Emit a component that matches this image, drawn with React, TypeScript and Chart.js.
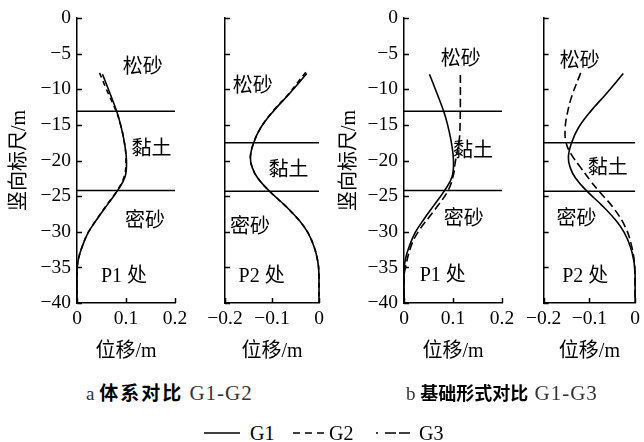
import React, { useEffect, useRef } from 'react';
import { Chart, registerables } from 'chart.js';

Chart.register(...registerables);

const FONT = '"Liberation Serif", "Noto Sans CJK SC", serif';
const CJK = '"Noto Sans CJK SC", sans-serif';
const H = 370;

// ---------- data (depth in m, displacement in m) ----------
// P1, G1 (used in both panels a and b)
const p1G1Depth = [-7.9, -10, -13.1, -15, -17.6, -20, -22.3, -24.2, -26.3, -28.2, -30.1, -32, -33.8, -35.5, -40];
const p1G1Disp = [0.052, 0.064, 0.081, 0.089, 0.097, 0.101, 0.098, 0.083, 0.061, 0.041, 0.023, 0.011, 0.003, 0, 0];
// P1, G2
const p1G2Depth = [-7.7, -10, -13.1, -15, -17.6, -20, -22.3, -24.2, -26.3, -28.2, -30.1, -32, -33.8, -35.5, -40];
const p1G2Disp = [0.046, 0.060, 0.080, 0.089, 0.097, 0.100, 0.096, 0.082, 0.060, 0.041, 0.023, 0.011, 0.003, 0, 0];
// P1, G3
const p1G3Depth = [-8, -12, -16, -17.5, -19, -20.5, -22, -24.2, -26.9, -30, -32.1, -35, -36.5, -40];
const p1G3Disp = [0.115, 0.115, 0.114, 0.112, 0.108, 0.104, 0.101, 0.090, 0.063, 0.029, 0.014, 0.003, 0, 0];
// P2, G1
const p2G1Depth = [-7.8, -10.7, -13, -15.4, -17.5, -19.5, -21, -22.5, -24.2, -26.4, -28.5, -30.1, -32, -34, -36, -40];
const p2G1Disp = [-0.026, -0.064, -0.096, -0.124, -0.139, -0.146, -0.142, -0.130, -0.107, -0.071, -0.041, -0.024, -0.011, -0.003, 0, 0];
// P2, G2
const p2G2Depth = [-7.6, -9, -10.7, -13, -15.4, -17.5, -19.5, -21, -22.5, -24.2, -26.4, -28.5, -30.1, -32, -34, -36, -40];
const p2G2Disp = [-0.028, -0.045, -0.065, -0.097, -0.124, -0.139, -0.146, -0.142, -0.130, -0.107, -0.071, -0.041, -0.024, -0.011, -0.003, 0, 0];
// P2, G3
const p2G3Depth = [-7.7, -10.7, -13, -15.4, -17.5, -19.1, -21, -22.9, -24.4, -26.6, -29.4, -32.2, -35, -40];
const p2G3Disp = [-0.119, -0.137, -0.147, -0.153, -0.151, -0.140, -0.119, -0.097, -0.078, -0.048, -0.021, -0.007, -0.001, 0];

// soil layer boundaries
const p1Bounds = [-13.1, -24.2];
const p2Bounds = [-17.5, -24.3];

// in-plot labels (data coordinates)
const p1aLabels = [
  { text: '松砂', x: 0.134, y: -7.0 },
  { text: '黏土', x: 0.152, y: -18.5 },
  { text: '密砂', x: 0.139, y: -28.6 },
  { text: 'P1 处', x: 0.096, y: -36.3 },
];
const p2aLabels = [
  { text: '松砂', x: -0.141, y: -9.7 },
  { text: '黏土', x: -0.065, y: -21.4 },
  { text: '密砂', x: -0.147, y: -29.4 },
  { text: 'P2 处', x: -0.122, y: -36.3 },
];
const p1bLabels = [
  { text: '松砂', x: 0.116, y: -5.9 },
  { text: '黏土', x: 0.141, y: -18.8 },
  { text: '密砂', x: 0.122, y: -28.3 },
  { text: 'P1 处', x: 0.079, y: -36.2 },
];
const p2bLabels = [
  { text: '松砂', x: -0.121, y: -6.1 },
  { text: '黏土', x: -0.060, y: -21.1 },
  { text: '密砂', x: -0.128, y: -28.3 },
  { text: 'P2 处', x: -0.109, y: -36.3 },
];

const DASH_G2 = [5, 4];
const DASH_G3 = [8, 4];

const fmt = (v: number) => {
  const r = Math.round(Number(v) * 100) / 100;
  if (r === 0) return '0';
  return String(r).replace('-', '\u2212');
};

const decor = {
  id: 'decor',
  afterDatasetsDraw(chart: any, _args: any, opts: any) {
    const { ctx, chartArea, scales } = chart;
    const x = scales.x;
    const y = scales.y;
    ctx.save();
    ctx.strokeStyle = '#000';
    ctx.lineWidth = 1.5;
    y.ticks.forEach((t: any) => {
      const py = Math.round(y.getPixelForValue(t.value)) + 0.5;
      ctx.beginPath();
      ctx.moveTo(chartArea.left, py);
      ctx.lineTo(chartArea.left + 5, py);
      ctx.stroke();
    });
    x.ticks.forEach((t: any) => {
      const px = Math.round(x.getPixelForValue(t.value)) + 0.5;
      ctx.beginPath();
      ctx.moveTo(px, chartArea.bottom);
      ctx.lineTo(px, chartArea.bottom - 5);
      ctx.stroke();
    });
    ctx.fillStyle = '#000';
    ctx.font = '20px ' + FONT;
    ctx.textAlign = 'center';
    ctx.textBaseline = 'middle';
    (opts.labels || []).forEach((l: any) => {
      ctx.fillText(l.text, x.getPixelForValue(l.x), y.getPixelForValue(l.y));
    });
    ctx.restore();
  },
};

type Curve = { depth: number[]; disp: number[]; dash: number[] };

type PanelProps = {
  left: number;
  width: number;
  yAxisWidth: number;
  padRight: number;
  xMin: number;
  xMax: number;
  curves: Curve[];
  bounds: number[];
  labels: { text: string; x: number; y: number }[];
  showY: boolean;
};

function Panel(p: PanelProps) {
  const ref = useRef<HTMLCanvasElement>(null);
  useEffect(() => {
    const datasets: any[] = p.curves.map((c) => ({
      data: c.depth.map((d, i) => ({ x: c.disp[i], y: d })),
      borderColor: '#000',
      borderWidth: 1.6,
      borderDash: c.dash,
      pointRadius: 0,
      tension: 0.4,
      fill: false,
      clip: 6,
    }));
    p.bounds.forEach((b) =>
      datasets.push({
        data: [
          { x: p.xMin, y: b },
          { x: p.xMax, y: b },
        ],
        borderColor: '#000',
        borderWidth: 1.5,
        pointRadius: 0,
        tension: 0,
        fill: false,
        clip: 6,
      })
    );
    const chart = new Chart(ref.current as HTMLCanvasElement, {
      type: 'line',
      data: { datasets },
      options: {
        animation: false,
        responsive: false,
        maintainAspectRatio: false,
        layout: { padding: { top: 18, right: p.padRight, left: 0, bottom: 0 } },
        plugins: {
          legend: { display: false },
          tooltip: { enabled: false },
          decor: { labels: p.labels },
        } as any,
        scales: {
          x: {
            type: 'linear',
            min: p.xMin,
            max: p.xMax,
            afterFit: (s: any) => {
              s.height = H - 303;
            },
            grid: { display: false, drawTicks: false },
            border: { display: true, color: '#000', width: 1.5 },
            ticks: {
              stepSize: 0.1,
              padding: 4,
              color: '#000',
              maxRotation: 0,
              autoSkip: false,
              font: { size: 19.5, family: FONT },
              callback: (v: any) => fmt(v),
            },
            title: {
              display: true,
              text: '位移/m',
              color: '#000',
              font: { size: 20, family: FONT },
              padding: { top: 0, bottom: 6 },
            },
          },
          y: {
            type: 'linear',
            min: -40,
            max: 0,
            afterFit: (s: any) => {
              s.width = p.yAxisWidth;
            },
            grid: { display: false, drawTicks: false },
            border: { display: true, color: '#000', width: 1.5 },
            ticks: {
              stepSize: 5,
              display: p.showY,
              padding: 6,
              color: '#000',
              font: { size: 19.5, family: FONT },
              callback: (v: any) => fmt(v),
            },
            title: {
              display: p.showY,
              text: '竖向标尺/m',
              color: '#000',
              font: { size: 20, family: FONT },
              padding: { top: 8, bottom: 0 },
            },
          },
        },
      } as any,
      plugins: [decor as any],
    });
    return () => chart.destroy();
  }, []);
  return (
    <canvas
      ref={ref}
      width={p.width}
      height={H}
      style={{ position: 'absolute', left: p.left, top: 0, width: p.width, height: H }}
    />
  );
}

const serifSpan: React.CSSProperties = { fontFamily: FONT, color: '#333', fontWeight: 400 };
const boldSpan: React.CSSProperties = { fontFamily: CJK, fontWeight: 700, color: '#000' };

export default function App() {
  return (
    <div
      style={{
        position: 'absolute',
        left: 0,
        top: 0,
        width: 644,
        height: 442,
        background: '#fff',
        overflow: 'hidden',
      }}
    >
      <Panel
        left={0}
        width={197}
        yAxisWidth={77}
        padRight={22}
        xMin={0}
        xMax={0.2}
        curves={[
          { depth: p1G1Depth, disp: p1G1Disp, dash: [] },
          { depth: p1G2Depth, disp: p1G2Disp, dash: DASH_G2 },
        ]}
        bounds={p1Bounds}
        labels={p1aLabels}
        showY={true}
      />
      <Panel
        left={197}
        width={140}
        yAxisWidth={28}
        padRight={18}
        xMin={-0.2}
        xMax={0}
        curves={[
          { depth: p2G1Depth, disp: p2G1Disp, dash: [] },
          { depth: p2G2Depth, disp: p2G2Disp, dash: DASH_G2 },
        ]}
        bounds={p2Bounds}
        labels={p2aLabels}
        showY={false}
      />
      <Panel
        left={330}
        width={190}
        yAxisWidth={74}
        padRight={18}
        xMin={0}
        xMax={0.2}
        curves={[
          { depth: p1G1Depth, disp: p1G1Disp, dash: [] },
          { depth: p1G3Depth, disp: p1G3Disp, dash: DASH_G3 },
        ]}
        bounds={p1Bounds}
        labels={p1bLabels}
        showY={true}
      />
      <Panel
        left={522}
        width={122}
        yAxisWidth={20}
        padRight={7.5}
        xMin={-0.2}
        xMax={0}
        curves={[
          { depth: p2G1Depth, disp: p2G1Disp, dash: [] },
          { depth: p2G3Depth, disp: p2G3Disp, dash: DASH_G3 },
        ]}
        bounds={p2Bounds}
        labels={p2bLabels}
        showY={false}
      />

      {/* captions */}
      <div
        style={{
          position: 'absolute',
          left: 86,
          top: 379,
          height: 26,
          lineHeight: '26px',
          fontSize: 19,
          whiteSpace: 'nowrap',
        }}
      >
        <span style={serifSpan}>a </span>
        <span style={{ ...boldSpan, fontSize: 19, letterSpacing: 2 }}>体系对比</span>
        <span style={{ ...serifSpan, fontSize: 21, letterSpacing: 1 }}> G1-G2</span>
      </div>
      <div
        style={{
          position: 'absolute',
          left: 406,
          top: 379,
          height: 26,
          lineHeight: '26px',
          fontSize: 19,
          whiteSpace: 'nowrap',
        }}
      >
        <span style={serifSpan}>b </span>
        <span style={{ ...boldSpan, fontSize: 18 }}>基础形式对比</span>
        <span style={{ ...serifSpan, fontSize: 21, letterSpacing: 1 }}> G1-G3</span>
      </div>

      {/* legend */}
      <svg
        width={644}
        height={30}
        style={{ position: 'absolute', left: 0, top: 418 }}
      >
        <line x1={204} y1={15} x2={240} y2={15} stroke="#000" strokeWidth={1.5} />
        <line x1={293} y1={15} x2={327} y2={15} stroke="#000" strokeWidth={1.5} strokeDasharray="7 5" />
        <line x1={376} y1={15} x2={378} y2={15} stroke="#000" strokeWidth={1.5} />
        <line x1={385} y1={15} x2={410} y2={15} stroke="#000" strokeWidth={1.5} strokeDasharray="11 3" />
      </svg>
      <div style={{ position: 'absolute', left: 250, top: 420, lineHeight: '26px', fontSize: 20, fontFamily: FONT }}>G1</div>
      <div style={{ position: 'absolute', left: 329, top: 420, lineHeight: '26px', fontSize: 20, fontFamily: FONT }}>G2</div>
      <div style={{ position: 'absolute', left: 419, top: 420, lineHeight: '26px', fontSize: 20, fontFamily: FONT }}>G3</div>
    </div>
  );
}
